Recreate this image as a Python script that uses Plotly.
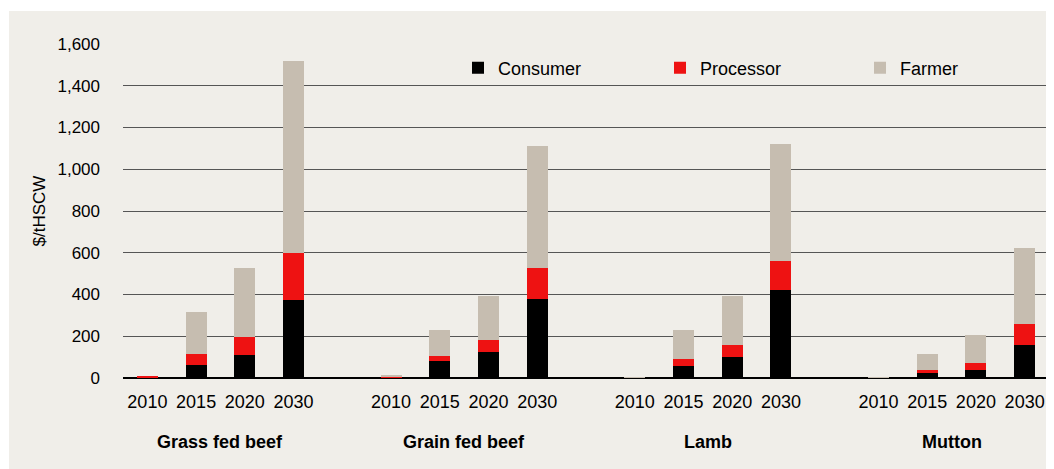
import plotly.graph_objects as go

groups = ["Grass fed beef", "Grain fed beef", "Lamb", "Mutton"]
years = ["2010", "2015", "2020", "2030"]

consumer = {
    "Grass fed beef": [1, 62, 110, 375],
    "Grain fed beef": [0, 81, 126, 378],
    "Lamb": [0, 57, 101, 421],
    "Mutton": [0, 24, 38, 158],
}
processor = {
    "Grass fed beef": [4, 53, 86, 224],
    "Grain fed beef": [3, 24, 56, 149],
    "Lamb": [0, 34, 57, 139],
    "Mutton": [0, 14, 34, 101],
}
farmer = {
    "Grass fed beef": [0, 201, 331, 921],
    "Grain fed beef": [11, 125, 209, 584],
    "Lamb": [4, 139, 233, 561],
    "Mutton": [3, 77, 134, 364],
}

y_ticks = [0, 200, 400, 600, 800, 1000, 1200, 1400, 1600]

BG = "#F0EEE9"
FONT = "Liberation Sans, Arial, sans-serif"

# page has an 8px body margin, so the figure is 8px smaller
W, H = 1046, 461
L, R, T, B = 115, 5, 36, 91
pw = W - L - R
ph = H - T - B

xs, xlabels = [], []
for gi, g in enumerate(groups):
    for yi, yr in enumerate(years):
        xs.append(gi * 5 + yi)
        xlabels.append(yr)

def flat(d):
    out = []
    for g in groups:
        out.extend(d[g])
    return out

fig = go.Figure()
series = [("Consumer", consumer, "#000000", "legend", 450),
          ("Processor", processor, "#EE1212", "legend2", 652),
          ("Farmer", farmer, "#C6BDB0", "legend3", 852)]
legends = {}
for name, d, col, lg, lx in series:
    fig.add_trace(go.Bar(x=xs, y=flat(d), name=name, legend=lg,
                         marker=dict(color=col, line=dict(width=0)), width=0.43))
    legends[lg] = dict(x=(lx - L) / pw, xanchor="left", y=(H - B - 60) / ph, yanchor="middle",
                       bgcolor="rgba(0,0,0,0)", font=dict(family=FONT, size=18, color="#000000"))

shapes = [
    dict(type="rect", xref="paper", yref="y", x0=(416 - L) / pw, x1=(998 - L) / pw,
         y0=1370, y1=1430, fillcolor=BG, line=dict(width=0), layer="between"),
    dict(type="rect", xref="paper", yref="paper", x0=-L / pw - 0.01, x1=(1 - L) / pw,
         y0=-B / ph - 0.05, y1=(H - B) / ph + 0.05, fillcolor="white", line=dict(width=0), layer="below"),
    dict(type="rect", xref="paper", yref="paper", x0=-L / pw - 0.01, x1=1.02,
         y0=(H - B - 3) / ph, y1=(H - B) / ph + 0.05, fillcolor="white", line=dict(width=0), layer="below"),
]

annotations = []
for gi, g in enumerate(groups):
    annotations.append(dict(x=gi * 5 + 1.5, xref="x", y=-(434 - (H - B)) / ph,
                            yref="paper", text=g, showarrow=False,
                            font=dict(family=FONT, size=18, color="#000000", weight="bold"),
                            xanchor="center", yanchor="middle"))

fig.update_layout(
    width=W, height=H,
    margin=dict(l=L, r=R, t=T, b=B),
    paper_bgcolor=BG, plot_bgcolor=BG,
    barmode="stack",
    font=dict(family=FONT, size=18, color="#000000"),
    showlegend=True,
    xaxis=dict(range=[-0.5, 18.5], tickmode="array", tickvals=xs, ticktext=xlabels,
               showgrid=False, zeroline=False, showline=False, ticks="",
               tickfont=dict(family=FONT, size=18), ticklabelstandoff=11),
    yaxis=dict(range=[0, 1600], tickmode="array", tickvals=y_ticks,
               ticktext=[f"{v:,}" for v in y_ticks],
               showgrid=True, gridcolor="#555555", gridwidth=1,
               zeroline=True, zerolinecolor="#000000", zerolinewidth=1.5,
               showline=False, ticks="", tickfont=dict(family=FONT, size=17),
               ticklabelstandoff=22,
               title=dict(text="$/tHSCW", font=dict(family=FONT, size=17), standoff=7)),
    shapes=shapes,
    annotations=annotations,
    bargap=0,
    **legends,
)

fig.write_html("out.html")
